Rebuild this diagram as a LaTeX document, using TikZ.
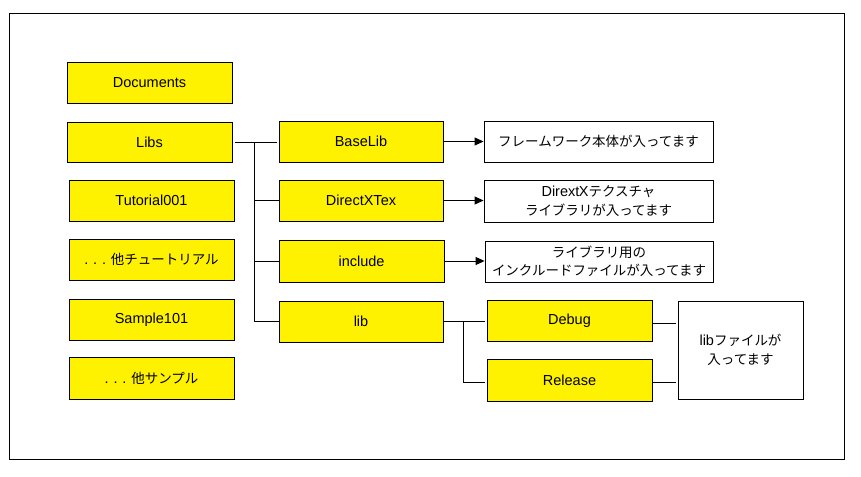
\documentclass[tikz,border=0pt]{standalone}
\usepackage{fontspec}
\setmainfont{Liberation Sans}
\newfontfamily\jpf[Scale=0.93]{Noto Sans CJK JP}
\newcommand\jp[1]{{\jpf #1}}
\usetikzlibrary{arrows.meta}
\begin{document}
\begin{tikzpicture}[x=1pt,y=-1pt,
  base/.style={draw=black, line width=0.9pt, inner sep=0pt, align=center,
    font=\fontsize{14.5}{18.5}\selectfont},
  ybox/.style={base, fill=yellow, minimum width=165pt, minimum height=41pt},
  wbox/.style={base, fill=white, minimum width=229pt, minimum height=41pt},
  conn/.style={line width=0.9pt},
  arr/.style={line width=0.9pt, -{Triangle[length=9pt,width=8pt]}}]
\fill[white] (0,0) rectangle (861,476);
\useasboundingbox (0,0) rectangle (861,476);
\draw[line width=0.9pt] (9.5,13) rectangle (844,459);

\node[ybox] (doc) at (149.5,82.5) {Documents};
\node[ybox, minimum height=40pt] (libs) at (149.5,142) {Libs};
\node[ybox] (tut) at (151.5,200.5) {Tutorial001};
\node[ybox] (otut) at (151.5,259.5) {.\,\,.\,\,.\,\,\jp{他チュートリアル}};
\node[ybox] (samp) at (151.5,319.5) {Sample101};
\node[ybox, minimum height=42pt] (osamp) at (151.5,378) {.\,\,.\,\,.\,\,\jp{他サンプル}};

\node[ybox, minimum width=164pt] (base) at (361,141.5) {BaseLib};
\node[ybox, minimum width=164pt] (dxt) at (361,200.5) {DirectXTex};
\node[ybox, minimum height=42pt] (inc) at (361.5,261) {include};
\node[ybox, minimum width=164pt] (lib) at (361,321.5) {lib};

\node[wbox] (b1) at (598.5,141.5) {\jp{フレームワーク本体が入ってます}};
\node[wbox, minimum height=42pt] (b2) at (598.5,201) {Dirext\kern-0.5ptX\jp{テクスチャ}\\\jp{ライブラリが入ってます}};
\node[wbox, minimum width=228pt] (b3) at (599,261.5) {\jp{ライブラリ用の}\\\jp{インクルードファイルが入ってます}};

\node[ybox] (dbg) at (569.5,320.5) {Debug};
\node[ybox, minimum height=42pt] (rel) at (569.5,380) {Release};
\node[wbox, minimum width=125pt, minimum height=98pt] (lf) at (740.5,350) {lib\jp{ファイルが}\\\jp{入ってます}};

% Libs tree
\coordinate (t0) at (254,142);
\draw[conn, shorten <=3pt, shorten >=2pt] (libs.east) -- (libs.east -| base.west);
\draw[conn] (t0) -- (t0 |- lib.west) -- (lib.west);
\draw[conn] (t0 |- dxt.west) -- (dxt.west);
\draw[conn] (t0 |- inc.west) -- (inc.west);

% arrows
\draw[arr] (base.east) -- (b1.west |- base.east);
\draw[arr] (dxt.east) -- (b2.west |- dxt.east);
\draw[arr] (inc.east) -- (b3.west |- inc.east);

% lib tree
\coordinate (t1) at (463,321);
\draw[conn, shorten >=2pt] (lib.east) -- (lib.east -| dbg.west);
\draw[conn, shorten >=2pt] (t1) -- (t1 |- 0,382) -- (dbg.west |- 0,382);
\draw[conn, shorten >=2pt] ([yshift=-2.5pt]dbg.east) -- ([yshift=-2.5pt]dbg.east -| lf.west);
\draw[conn, shorten >=2pt] ([yshift=-2pt]rel.east) -- ([yshift=-2pt]rel.east -| lf.west);
\end{tikzpicture}
\end{document}
